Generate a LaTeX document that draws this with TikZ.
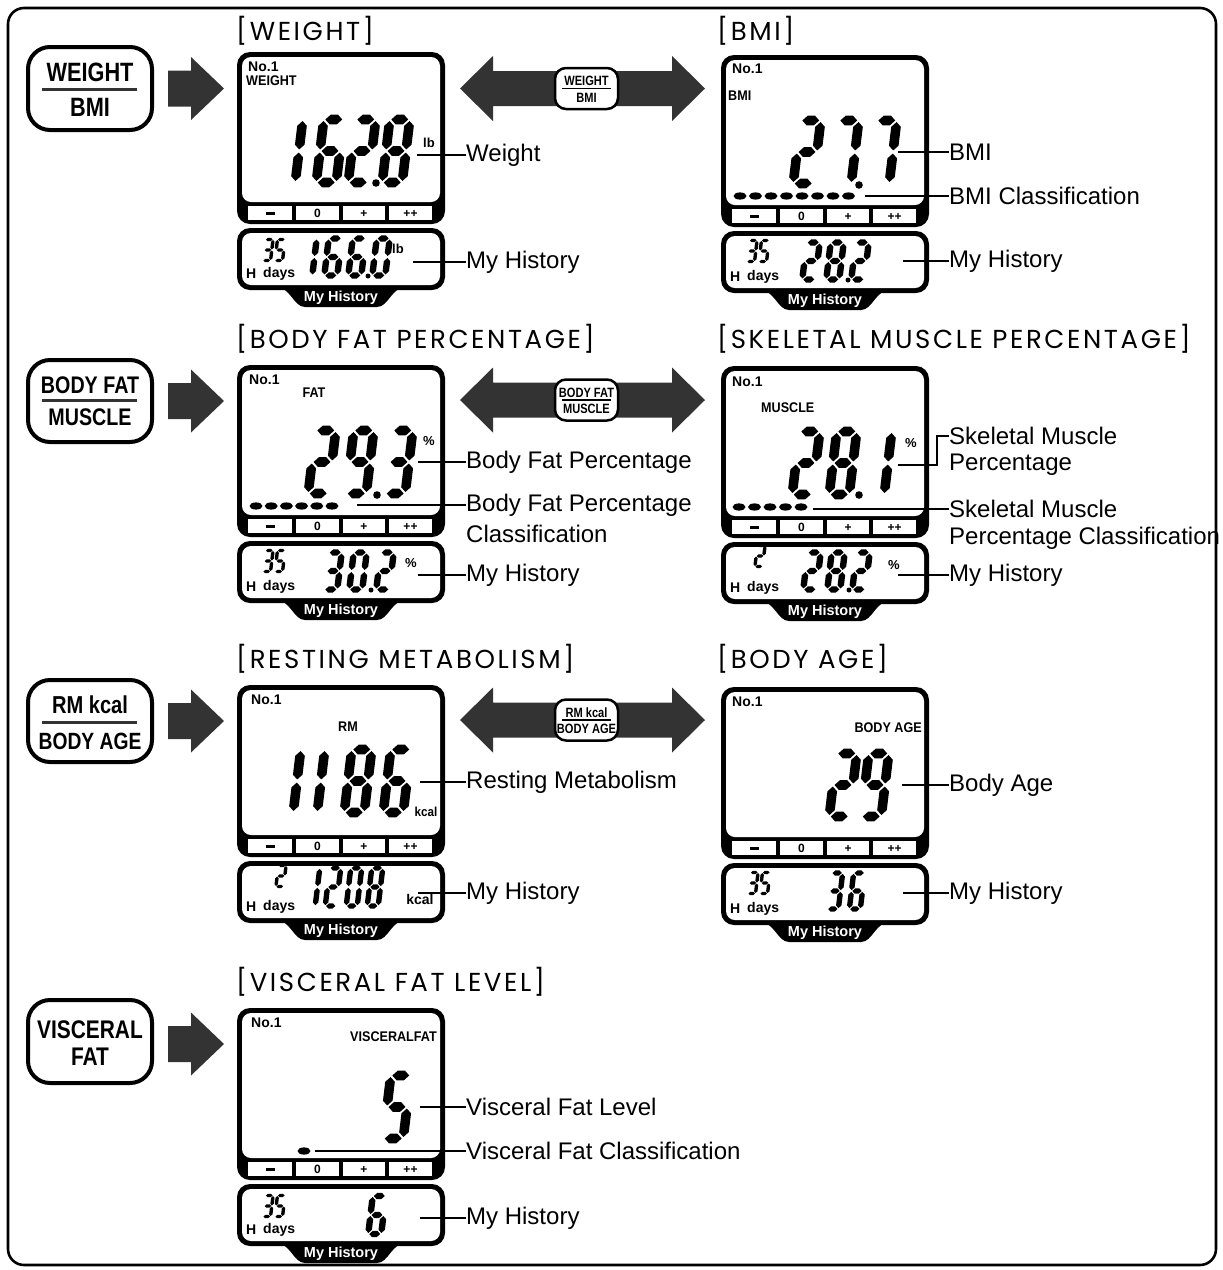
\documentclass[tikz,border=0pt]{standalone}
\usepackage{fontspec}
\setmainfont{Liberation Sans}
\newfontfamily\ttlfont{Poppins}[LetterSpace=10]
\newfontfamily\cnd{Liberation Sans}[FakeStretch=0.82]
\newfontfamily\cndb{Liberation Sans}[FakeStretch=0.9]
\definecolor{arrowgray}{HTML}{333333}
% seven segment pieces (local units, digit centre at origin, y down)
\newcommand\hsg[1]{\fill (-\dw+\dgp,#1) -- (-\dw+\dgp+\dt,#1-\dt) -- (\dw-\dgp-\dt,#1-\dt) -- (\dw-\dgp,#1) -- (\dw-\dgp-\dt,#1+\dt) -- (-\dw+\dgp+\dt,#1+\dt) -- cycle;}
\newcommand\vsg[3]{\fill (#1,#2+\dgp) -- (#1+\dt,#2+\dgp+\dt) -- (#1+\dt,#3-\dgp-\dt) -- (#1,#3-\dgp) -- (#1-\dt,#3-\dgp-\dt) -- (#1-\dt,#2+\dgp+\dt) -- cycle;}
\newcommand\lsegA{\hsg{-\dh}}
\newcommand\lsegB{\vsg{\dw}{-\dh}{0}}
\newcommand\lsegC{\vsg{\dw}{0}{\dh}}
\newcommand\lsegD{\hsg{\dh}}
\newcommand\lsegE{\vsg{-\dw}{0}{\dh}}
\newcommand\lsegF{\vsg{-\dw}{-\dh}{0}}
\newcommand\lsegG{\hsg{0}}
\expandafter\def\csname dg0\endcsname{A,B,C,D,E,F}
\expandafter\def\csname dg1\endcsname{B,C}
\expandafter\def\csname dg2\endcsname{A,B,G,E,D}
\expandafter\def\csname dg3\endcsname{A,B,G,C,D}
\expandafter\def\csname dg5\endcsname{A,F,G,C,D}
\expandafter\def\csname dg6\endcsname{A,F,G,E,C,D}
\expandafter\def\csname dg7\endcsname{A,B,C}
\expandafter\def\csname dg8\endcsname{A,B,C,D,E,F,G}
\expandafter\def\csname dg9\endcsname{A,B,C,D,F,G}
% \lcdd{x}{y}{digit}
\newcommand\lcdd[3]{%
  \begin{scope}[shift={(#1,#2)},xslant=0.12]
    \edef\lcdsegs{\csname dg#3\endcsname}%
    \foreach \sg in \lcdsegs {\csname lseg\sg\endcsname}%
  \end{scope}}
% \lcdnum{y}{half width}{half height}{half thickness}{x/digit list}
\newcommand\lcdnum[5]{%
  \def\dw{#2}\def\dh{#3}\def\dt{#4}%
  \pgfmathsetmacro\dgp{0.32*#4}%
  \foreach \xx/\dd in {#5} {\lcdd{\xx}{#1}{\dd}}}
\newcommand\pill[2]{\fill (#1,#2) ellipse [x radius=6.5pt, y radius=3.6pt];}
\tikzset{
  lbl/.style={anchor=west, inner sep=0pt, font=\fontsize{24}{28}\selectfont},
  ttl/.style={anchor=west, inner sep=0pt, font=\ttlfont\fontsize{26}{28}\selectfont},
  dtx/.style={inner sep=0pt, font=\bfseries\fontsize{14}{14}\selectfont},
  dcx/.style={inner sep=0pt, font=\cndb\bfseries\fontsize{14}{14}\selectfont},
  utx/.style={inner sep=0pt, font=\bfseries\fontsize{13}{13}\selectfont},
  btx/.style={inner sep=0pt, font=\bfseries\fontsize{12}{12}\selectfont},
  tabtx/.style={inner sep=0pt, text=white, font=\bfseries\fontsize{14.5}{15}\selectfont},
  sbt/.style={inner sep=0pt, font=\cnd\bfseries\fontsize{13.5}{13}\selectfont},
  conn/.style={line width=2.6pt},
}
\newcommand\lcdpanel[2]{%
  \begin{scope}[shift={(#1,#2)}]
    \fill[rounded corners=13pt] (0,0) rectangle (208,172);
    \fill[white,rounded corners=9pt] (5,5) rectangle (203,150);
    \fill[white] (11,154) rectangle (55,168);
    \fill[white] (59,154) rectangle (102,168);
    \fill[white] (106,154) rectangle (148,168);
    \fill[white] (152,154) rectangle (195,168);
    \fill (28.5,159.5) rectangle (37.5,163);
    \node[btx] at (80.5,161.5) {0};
    \node[btx] at (127,161.5) {+};
    \node[btx] at (173.5,161.5) {++};
    \fill[rounded corners=13pt] (0,176) rectangle (208,238);
    \fill[white,rounded corners=9pt] (5,181) rectangle (203,233);
    \fill (36,234) .. controls (54,234) and (56,255) .. (68,255) -- (140,255) .. controls (152,255) and (154,234) .. (172,234) -- cycle;
    \node[tabtx] at (104,245.5) {My History};
    \node[dtx,anchor=west] at (9,222) {H};
    \node[dtx,anchor=west] at (26,222) {days};
  \end{scope}}
\newcommand\rarrow[1]{\fill[arrowgray] (168,#1-18) -- (191,#1-18) -- (191,#1-31.5) -- (224,#1) -- (191,#1+31.5) -- (191,#1+18) -- (168,#1+18) -- cycle;}
\newcommand\darrow[1]{\fill[arrowgray] (460,#1) -- (493,#1-32.5) -- (493,#1-17.5) -- (672,#1-17.5) -- (672,#1-32.5) -- (705,#1) -- (672,#1+32.5) -- (672,#1+17.5) -- (493,#1+17.5) -- (493,#1+32.5) -- cycle;}
\newcommand\smallbtn[3]{%
  \draw[line width=2.5pt, fill=white, rounded corners=11pt] (555,#1-20.5) rectangle (618,#1+20.5);
  \node[sbt] at (586.5,#1-7.5) {#2};
  \draw[line width=1.6pt] (562,#1) -- (611,#1);
  \node[sbt] at (586.5,#1+9) {#3};}
\begin{document}
\begin{tikzpicture}[x=1pt,y=-1pt]
\useasboundingbox (0,0) rectangle (1223,1270);
\draw[line width=2.6pt, rounded corners=16pt] (8,8) rectangle (1216,1265);

% ---------- left buttons ----------
\draw[line width=4pt, rounded corners=22pt] (28,47) rectangle (152,130);
\node[font=\cnd\bfseries\fontsize{26.5}{26}\selectfont, inner sep=0pt] (b1t) at (90,72) {WEIGHT};
\draw[line width=3pt, black!80] (42,89) -- (137,89);
\node[font=\cnd\bfseries\fontsize{26.5}{26}\selectfont, inner sep=0pt] (b1b) at (90,107) {BMI};

\draw[line width=4pt, rounded corners=22pt] (28,360) rectangle (152,442);
\node[font=\cnd\bfseries\fontsize{24}{24}\selectfont, inner sep=0pt] (b2t) at (90,385) {BODY FAT};
\draw[line width=3pt, black!80] (42,400) -- (137,400);
\node[font=\cnd\bfseries\fontsize{24}{24}\selectfont, inner sep=0pt] (b2b) at (90,417) {MUSCLE};

\draw[line width=4pt, rounded corners=22pt] (28,680) rectangle (152,762);
\node[font=\cnd\bfseries\fontsize{24.5}{24}\selectfont, inner sep=0pt] (b3t) at (90,705) {RM kcal};
\draw[line width=3pt, black!80] (42,722) -- (137,722);
\node[font=\cnd\bfseries\fontsize{23.5}{24}\selectfont, inner sep=0pt] (b3b) at (90,741) {BODY AGE};

\draw[line width=4pt, rounded corners=22pt] (28,1000) rectangle (152,1083);
\node[font=\cnd\bfseries\fontsize{25.5}{25}\selectfont, inner sep=0pt] (b4t) at (90,1030) {VISCERAL};
\node[font=\cnd\bfseries\fontsize{25.5}{25}\selectfont, inner sep=0pt] (b4b) at (90,1057) {FAT};

% ---------- arrows ----------
\rarrow{88.5}
\rarrow{401}
\rarrow{721}
\rarrow{1044}
\darrow{88.5}
\smallbtn{88.5}{WEIGHT}{BMI}
\darrow{400}
\smallbtn{400}{BODY FAT}{MUSCLE}
\darrow{720}
\smallbtn{720}{RM kcal}{BODY AGE}

% ---------- titles ----------
\node[ttl] (t1) at (236,31) {[WEIGHT]};
\node[ttl] (t2) at (717,31) {[BMI]};
\node[ttl] (t3) at (236,339) {[BODY FAT PERCENTAGE]};
\node[ttl] (t4) at (717,339) {[SKELETAL MUSCLE PERCENTAGE]};
\node[ttl] (t5) at (236,659) {[RESTING METABOLISM]};
\node[ttl] (t6) at (717,659) {[BODY AGE]};
\node[ttl] (t7) at (236,982) {[VISCERAL FAT LEVEL]};

% ---------- row 1 A : weight ----------
\lcdpanel{237}{52}
\node[dtx,anchor=west] (n1a) at (248,67) {No.1};
\node[dcx,anchor=west] (m1a) at (246,81) {WEIGHT};
\lcdnum{151}{10}{31.5}{4.8}{289/1,330/6,362/2,396/8}
\fill (376,183) circle[radius=3.8pt];
\node[utx] (u1a) at (429,143) {lb};
\lcdnum{250}{3.8}{10.5}{1.7}{268/3,280/5}
\lcdnum{257}{6.5}{18.5}{3.2}{308/1,333/6,357/6,381/0}
\fill (368,276) circle[radius=2.5pt];
\node[utx] (v1a) at (398,249) {lb};
\node[lbl] (l1a) at (466,155) {Weight};
\coordinate (c1a) at (417,155);
\draw[conn] (c1a) -- (l1a.west);
\node[lbl] (h1a) at (466,262) {My History};
\coordinate (d1a) at (413,262);
\draw[conn] (d1a) -- (h1a.west);

% ---------- row 1 B : BMI ----------
\lcdpanel{721}{55}
\node[dtx,anchor=west] (n1b) at (732,69) {No.1};
\node[dcx,anchor=west] (m1b) at (728,96) {BMI};
\lcdnum{152}{10}{31.5}{4.8}{807/2,845/7,883/7}
\fill (859,185) circle[radius=3.8pt];
\foreach \i in {0,...,7} {\pill{740+15.5*\i}{196}}
\lcdnum{251}{3.8}{10.5}{1.7}{752/3,764/5}
\lcdnum{261}{6.5}{18.5}{3.2}{811/2,835/8,860/2}
\fill (848,280) circle[radius=2.5pt];
\node[lbl] (l1b) at (949,152) {BMI};
\coordinate (c1b) at (898,152);
\draw[conn] (c1b) -- (l1b.west);
\node[lbl] (k1b) at (949,196) {BMI Classification};
\coordinate (e1b) at (865,196);
\draw[conn] (e1b) -- (k1b.west);
\node[lbl] (h1b) at (949,261) {My History};
\coordinate (d1b) at (903,261);
\draw[conn] (d1b) -- (h1b.west);

% ---------- row 2 A : body fat ----------
\lcdpanel{237}{365}
\node[dtx,anchor=west] (n2a) at (249,380) {No.1};
\node[dcx] (m2a) at (314,393) {FAT};
\lcdnum{462}{10}{31.5}{4.8}{322/2,360/9,399/3}
\fill (377,495) circle[radius=3.8pt];
\node[utx] (u2a) at (429,441) {\%};
\foreach \i in {0,...,5} {\pill{256+15.2*\i}{506}}
\lcdnum{561}{3.8}{10.5}{1.7}{268/3,280/5}
\lcdnum{571}{6.5}{18.5}{3.2}{333/3,358/0,385/2}
\fill (371,590) circle[radius=2.5pt];
\node[utx] (v2a) at (411,563) {\%};
\node[lbl] (l2a) at (466,462) {Body Fat Percentage};
\coordinate (c2a) at (418,462);
\draw[conn] (c2a) -- (l2a.west);
\node[lbl] (k2a) at (466,505) {Body Fat Percentage};
\node[lbl] (k2a2) at (466,534) {Classification};
\coordinate (e2a) at (357,505);
\draw[conn] (e2a) -- (k2a.west);
\node[lbl] (h2a) at (466,575) {My History};
\coordinate (d2a) at (418,575);
\draw[conn] (d2a) -- (h2a.west);

% ---------- row 2 B : skeletal muscle ----------
\lcdpanel{721}{366}
\node[dtx,anchor=west] (n2b) at (732,382) {No.1};
\node[dcx,anchor=west] (m2b) at (761,408) {MUSCLE};
\lcdnum{463}{10}{31.5}{4.8}{806/2,843/8,878/1}
\fill (859,495) circle[radius=3.8pt];
\node[utx] (u2b) at (911,443) {\%};
\foreach \i in {0,...,4} {\pill{739+15.5*\i}{507}}
\lcdnum{556}{3.8}{10.5}{1.7}{760/2}
\lcdnum{571}{6.5}{18.5}{3.2}{812/2,836/8,861/2}
\fill (849,590) circle[radius=2.5pt];
\node[utx] (v2b) at (894,565) {\%};
\node[lbl] (l2b) at (949,436) {Skeletal Muscle};
\node[lbl] (l2b2) at (949,465) {Percentage};
\coordinate (c2b) at (898,465);
\draw[conn] (c2b) -- ++(39,0) |- (l2b.west);
\node[lbl] (k2b) at (949,509) {Skeletal Muscle};
\node[lbl] (k2b2) at (949,538) {Percentage Classification};
\coordinate (e2b) at (813,509);
\draw[conn] (e2b) -- (k2b.west);
\node[lbl] (h2b) at (949,575) {My History};
\coordinate (d2b) at (898,575);
\draw[conn] (d2b) -- (h2b.west);

% ---------- row 3 A : resting metabolism ----------
\lcdpanel{237}{685}
\node[dtx,anchor=west] (n3a) at (251,700) {No.1};
\node[dcx] (m3a) at (348,727) {RM};
\lcdnum{781}{10}{31.5}{4.8}{287/1,311/1,358/8,397/6}
\node[font=\cndb\bfseries\fontsize{13}{13}\selectfont, inner sep=0pt] (u3a) at (426,812) {kcal};
\lcdnum{876}{3.8}{10.5}{1.7}{281/2}
\lcdnum{887}{5.5}{19}{2.7}{312/1,333/2,354/0,375/8}
\node[font=\bfseries\fontsize{14}{14}\selectfont, inner sep=0pt] (v3a) at (420,899) {kcal};
\node[lbl] (l3a) at (466,782) {Resting Metabolism};
\coordinate (c3a) at (420,782);
\draw[conn] (c3a) -- (l3a.west);
\node[lbl] (h3a) at (466,893) {My History};
\coordinate (d3a) at (418,893);
\draw[conn] (d3a) -- (h3a.west);

% ---------- row 3 B : body age ----------
\lcdpanel{721}{687}
\node[dtx,anchor=west] (n3b) at (732,702) {No.1};
\node[dcx,anchor=east] (m3b) at (922,728) {BODY AGE};
\lcdnum{785}{10}{31.5}{4.8}{843/2,875/9}
\lcdnum{883}{3.8}{10.5}{1.7}{753/3,765/5}
\lcdnum{891}{5.5}{18}{2.7}{835/3,857/6}
\node[lbl] (l3b) at (949,785) {Body Age};
\coordinate (c3b) at (902,785);
\draw[conn] (c3b) -- (l3b.west);
\node[lbl] (h3b) at (949,893) {My History};
\coordinate (d3b) at (903,893);
\draw[conn] (d3b) -- (h3b.west);

% ---------- row 4 A : visceral fat ----------
\lcdpanel{237}{1008}
\node[dtx,anchor=west] (n4a) at (251,1023) {No.1};
\node[dcx,anchor=east] (m4a) at (437,1037) {VISCERALFAT};
\lcdnum{1107}{10}{31.5}{4.8}{397/5}
\pill{304}{1151}
\lcdnum{1206}{3.8}{10.5}{1.7}{268/3,280/5}
\lcdnum{1215}{6.5}{19}{3.2}{377/6}
\node[lbl] (l4a) at (466,1107) {Visceral Fat Level};
\coordinate (c4a) at (420,1107);
\draw[conn] (c4a) -- (l4a.west);
\node[lbl] (k4a) at (466,1151) {Visceral Fat Classification};
\coordinate (e4a) at (315,1151);
\draw[conn] (e4a) -- (k4a.west);
\node[lbl] (h4a) at (466,1218) {My History};
\coordinate (d4a) at (420,1218);
\draw[conn] (d4a) -- (h4a.west);
\end{tikzpicture}
\end{document}
